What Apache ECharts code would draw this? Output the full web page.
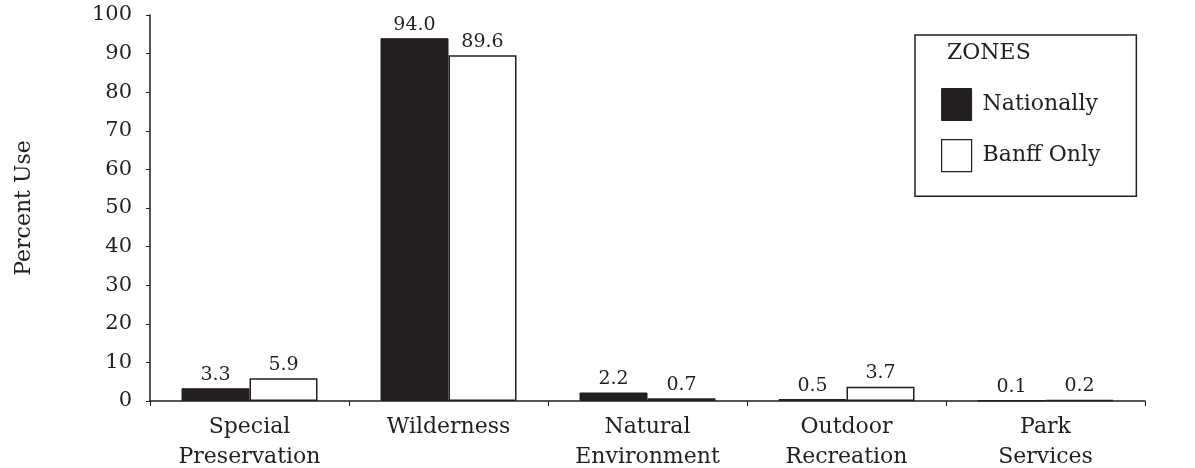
<!DOCTYPE html>
<html><head><meta charset="utf-8">
<script src="https://cdn.jsdelivr.net/npm/echarts@6/dist/echarts.min.js"></script>
<style>html,body{margin:0;padding:0;background:#fff}#c{width:1195px;height:468px}</style>
</head><body><div id="c"></div>
<script>
const categories = ['Special\nPreservation', 'Wilderness', 'Natural\nEnvironment', 'Outdoor\nRecreation', 'Park\nServices'];
const nationally = [3.3, 94.0, 2.2, 0.5, 0.1];
const banffOnly = [5.9, 89.6, 0.7, 3.7, 0.2];
const yTicks = [0, 10, 20, 30, 40, 50, 60, 70, 80, 90, 100];
const seriesNames = ['Nationally', 'Banff Only'];

const ink = '#231f20';
const font = 'DejaVu Serif';
const chart = echarts.init(document.getElementById('c'), null, {renderer: 'canvas'});
const valLabel = {
  show: true, position: 'top', distance: 4,
  fontFamily: font, fontSize: 19, color: ink,
  formatter: p => p.value.toFixed(1)
};
chart.setOption({
  animation: false,
  backgroundColor: '#fff',
  title: {
    text: 'ZONES', left: 942, top: 37,
    textStyle: {fontFamily: font, fontSize: 22, fontWeight: 'normal', color: ink}
  },
  legend: {
    left: 915, top: 35, orient: 'vertical',
    padding: [53, 36, 24, 26],
    borderColor: ink, borderWidth: 1.5,
    itemWidth: 30, itemHeight: 32, itemGap: 18,
    icon: 'rect',
    textStyle: {fontFamily: font, fontSize: 22, color: ink, padding: [0, 0, 0, 6]},
    data: [
      {name: seriesNames[0], itemStyle: {color: ink, borderColor: ink, borderWidth: 1}},
      {name: seriesNames[1], itemStyle: {color: '#fff', borderColor: ink, borderWidth: 1.2}}
    ]
  },
  grid: {left: 150, top: 15, width: 995, height: 386, containLabel: false, outerBoundsMode: 'none'},
  xAxis: {
    type: 'category', data: categories,
    axisLine: {lineStyle: {color: ink, width: 1.5}},
    axisTick: {show: true, length: 5, alignWithLabel: false, lineStyle: {color: ink}},
    axisLabel: {fontFamily: font, fontSize: 22, color: ink, lineHeight: 30, margin: 11, interval: 0}
  },
  yAxis: {
    type: 'value', min: yTicks[0], max: yTicks[yTicks.length - 1], interval: 10,
    name: 'Percent Use', nameLocation: 'middle', nameGap: 115, nameRotate: 90,
    nameTextStyle: {fontFamily: font, fontSize: 22, color: ink},
    splitLine: {show: false},
    axisLine: {show: true, lineStyle: {color: ink, width: 1.5}},
    axisTick: {show: true, length: 4, lineStyle: {color: ink}},
    axisLabel: {fontFamily: font, fontSize: 21, color: ink, margin: 18}
  },
  series: [
    {
      name: seriesNames[0], type: 'bar', data: nationally,
      barWidth: 68, barGap: '0%',
      itemStyle: {color: ink, borderColor: ink, borderWidth: 1},
      label: valLabel
    },
    {
      name: seriesNames[1], type: 'bar', data: banffOnly,
      barWidth: 68,
      itemStyle: {color: '#fff', borderColor: ink, borderWidth: 1.5},
      label: valLabel
    }
  ]
});
</script></body></html>
